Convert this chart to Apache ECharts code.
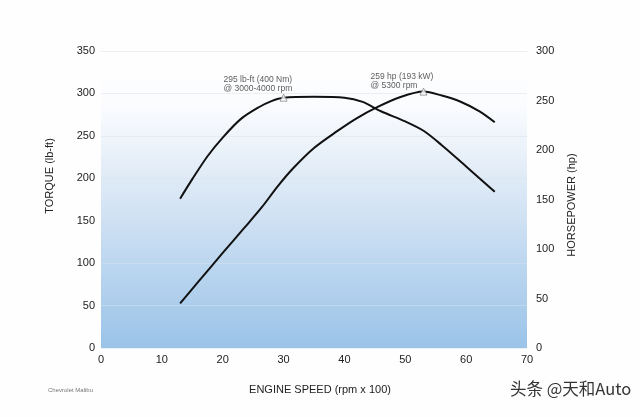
<!DOCTYPE html>
<html>
<head>
<meta charset="utf-8">
<script src="https://cdn.jsdelivr.net/npm/echarts@6/dist/echarts.min.js"></script>
<style>
html,body{margin:0;padding:0;background:#fefefe;}
#c{width:640px;height:417px;}
</style>
</head>
<body>
<div id="c"></div>
<script>
// Engine speed (rpm x 100), torque (lb-ft), horsepower (hp)
var torqueData = [[13,176],[15,199],[17.5,226],[20,248],[23,270],[26,284],[28,291],[30,295],[35,296],[40,295],[43,290],[46,279],[50,267],[53,256],[56,239],[60,214],[64.7,184]];
var hpData = [[13,45],[16,67],[20,96],[23.5,121],[26.4,142],[29,163],[31.5,181],[35,202],[38.8,219],[42,232],[45.3,243],[49,253],[53,259],[56,255],[59,249],[62.2,239],[64.7,228]];
var torquePeak = [30,295];
var hpPeak = [53,259];
var torqueNote = '295 lb-ft (400 Nm)\n@ 3000-4000 rpm';
var hpNote = '259 hp (193 kW)\n@ 5300 rpm';
var xTitle = 'ENGINE SPEED (rpm x 100)';
var yLeftTitle = 'TORQUE (lb-ft)';
var yRightTitle = 'HORSEPOWER (hp)';
var sourceText = 'Chevrolet Malibu';
var watermark = '头条 @天和Auto';

var chart = echarts.init(document.getElementById('c'));
var font = 'Liberation Sans, Arial, sans-serif';
var noteLabel = {show:true, color:'#333', fontSize:8.5, lineHeight:9.5, fontFamily:font, align:'left', verticalAlign:'top'};
chart.setOption({
  backgroundColor:'#fefefe',
  animation:false,
  grid:{left:101,right:113,top:51,bottom:69,show:true,borderWidth:0,
    backgroundColor:new echarts.graphic.LinearGradient(0,0,0,1,[
      {offset:0,color:'#ffffff'},{offset:0.18,color:'#fbfcfe'},{offset:0.45,color:'#dde9f6'},{offset:1,color:'#9ac3e8'}])},
  xAxis:{type:'value',min:0,max:70,interval:10,
    axisLine:{show:false},axisTick:{show:false},splitLine:{show:false},
    axisLabel:{color:'#222',fontSize:11,fontFamily:font,margin:6}},
  yAxis:[
    {type:'value',min:0,max:350,interval:50,
      axisLine:{show:false},axisTick:{show:false},
      splitLine:{show:true,lineStyle:{color:'rgba(215,225,235,0.5)',width:1}},
      axisLabel:{color:'#222',fontSize:11,fontFamily:font,margin:6}},
    {type:'value',min:0,max:300,interval:50,position:'right',
      axisLine:{show:false},axisTick:{show:false},splitLine:{show:false},
      axisLabel:{color:'#222',fontSize:11,fontFamily:font,margin:9}}
  ],
  series:[
    {type:'line',data:torqueData,yAxisIndex:0,smooth:0.3,showSymbol:false,
      lineStyle:{color:'#111',width:2},z:3},
    {type:'line',data:hpData,yAxisIndex:1,smooth:0.3,showSymbol:false,
      lineStyle:{color:'#111',width:2},z:3},
    {type:'scatter',yAxisIndex:0,symbol:'triangle',symbolSize:7,
      itemStyle:{color:'#ffffff',borderColor:'#888',borderWidth:1},z:4,
      data:[{value:torquePeak,label:Object.assign({},noteLabel,{formatter:torqueNote,position:[-56,-19]})}]},
    {type:'scatter',yAxisIndex:1,symbol:'triangle',symbolSize:7,
      itemStyle:{color:'#ffffff',borderColor:'#888',borderWidth:1},z:4,
      data:[{value:hpPeak,label:Object.assign({},noteLabel,{formatter:hpNote,position:[-49,-16]})}]}
  ],
  graphic:[
    {type:'text',left:'center',top:384,style:{text:xTitle,fill:'#222',fontSize:11,fontFamily:font}},
    {type:'text',x:50,y:176,rotation:Math.PI/2,style:{text:yLeftTitle,fill:'#222',fontSize:11,fontFamily:font,align:'center',verticalAlign:'middle'}},
    {type:'text',x:572,y:205,rotation:Math.PI/2,style:{text:yRightTitle,fill:'#222',fontSize:11,fontFamily:font,align:'center',verticalAlign:'middle'}},
    {type:'text',x:48,y:387,style:{text:sourceText,fill:'#777',fontSize:6,fontFamily:font}},
    {type:'text',x:510,y:380,style:{text:watermark,fill:'#333',fontSize:16.5,fontFamily:'Noto Sans CJK SC, sans-serif'}}
  ]
});
</script>
</body>
</html>
